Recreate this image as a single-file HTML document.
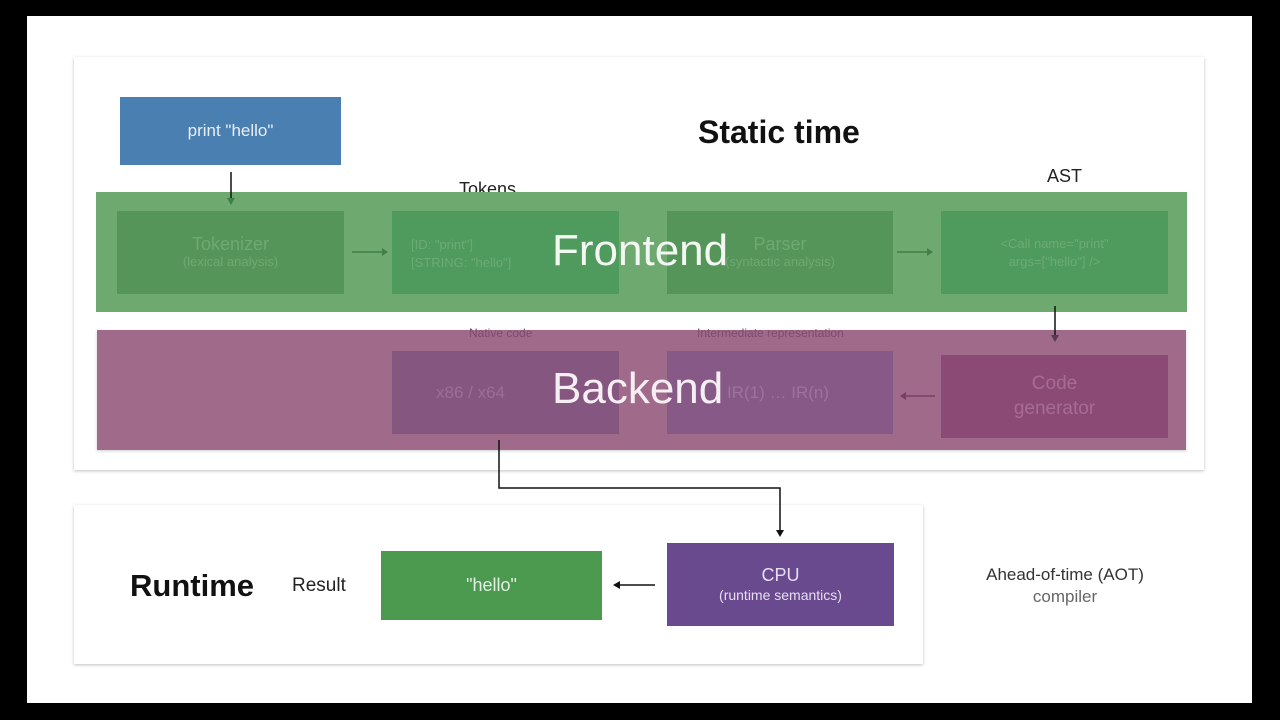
<!DOCTYPE html>
<html><head><meta charset="utf-8"><style>
*{margin:0;padding:0;box-sizing:border-box}
body{width:1280px;height:720px;background:#000;position:relative;overflow:hidden;font-family:"Liberation Sans",sans-serif}
.a{position:absolute}
.c{display:flex;align-items:center;justify-content:center;flex-direction:column;text-align:center}
.panel{background:#fff;box-shadow:0 1px 3px rgba(0,0,0,.25)}
</style></head><body>
<div class="a" style="left:27px;top:16px;width:1225px;height:687px;background:#fff"></div>
<div class="a panel" style="left:74px;top:57px;width:1130px;height:413px"></div>
<div class="a panel" style="left:74px;top:505px;width:849px;height:159px"></div>

<div class="a c" style="left:120px;top:97px;width:221px;height:68px;background:#4a7fb2;color:#e8eef6;font-size:17px">print "hello"</div>
<div class="a" style="left:698px;top:114px;font-size:32px;font-weight:bold;color:#111">Static time</div>
<div class="a" style="left:459px;top:179px;font-size:18px;color:#222">Tokens</div>
<div class="a" style="left:1047px;top:166px;font-size:18px;color:#222">AST</div>

<!-- green band -->
<div class="a" style="left:96px;top:192px;width:1091px;height:120px;background:#6eaa70"></div>
<div class="a c" style="left:117px;top:211px;width:227px;height:83px;background:#56955a;color:#6ea872;font-size:18px;line-height:1.1">Tokenizer<span style="font-size:13px">(lexical analysis)</span></div>
<div class="a" style="left:392px;top:211px;width:227px;height:83px;background:#4f9a5d;color:#6cab76;font-size:13px;padding:25px 0 0 19px;line-height:1.35">[ID: "print"]<br>[STRING: "hello"]</div>
<div class="a c" style="left:667px;top:211px;width:226px;height:83px;background:#56955a;color:#6ea872;font-size:18px;line-height:1.1">Parser<span style="font-size:13px">(syntactic analysis)</span></div>
<div class="a c" style="left:941px;top:211px;width:227px;height:83px;background:#4f9a5d;color:#6cab76;font-size:13px;line-height:1.35">&lt;Call name="print"<br>args=["hello"] /&gt;</div>
<div class="a" style="left:552px;top:226px;font-size:44px;color:#f2f7f2">Frontend</div>

<!-- pink band -->
<div class="a" style="left:97px;top:330px;width:1089px;height:120px;background:#a06a8a;box-shadow:0 1px 3px rgba(0,0,0,.2)"></div>
<div class="a" style="left:469px;top:326px;font-size:12px;color:#7f4a6c">Native code</div>
<div class="a" style="left:697px;top:326px;font-size:12px;color:#7f4a6c">Intermediate representation</div>
<div class="a c" style="left:392px;top:351px;width:227px;height:83px;background:#855680;color:#9a6f98;font-size:17px;padding-right:70px">x86 / x64</div>
<div class="a c" style="left:667px;top:351px;width:226px;height:83px;background:#865986;color:#9e73a0;font-size:17px;align-items:flex-start;padding-left:60px">IR(1) … IR(n)</div>
<div class="a c" style="left:941px;top:355px;width:227px;height:83px;background:#8b4a75;color:#a66c92;font-size:19px;line-height:1.3">Code<br>generator</div>
<div class="a" style="left:552px;top:364px;font-size:44px;color:#f5eef3">Backend</div>

<svg class="a" style="left:0;top:0" width="1280" height="720">
<g stroke="#111" stroke-width="1.5" fill="none">
<line x1="231" y1="172" x2="231" y2="198"/>
<line x1="1055" y1="306" x2="1055" y2="335"/>
<polyline points="499,440 499,488 780,488 780,530"/>
<line x1="620" y1="585" x2="655" y2="585"/>
</g>
<g stroke="#3f7f48" stroke-width="1.5"><line x1="352" y1="252" x2="382" y2="252"/><line x1="897" y1="252" x2="927" y2="252"/></g>
<g stroke="#7a3e64" stroke-width="1.5"><line x1="906" y1="396" x2="935" y2="396"/></g>
<g fill="#3f7f48"><polygon points="227,198 235,198 231,205"/><polygon points="382,248 388,252 382,256"/><polygon points="927,248 933,252 927,256"/></g>
<polygon fill="#7a3e64" points="906,392 900,396 906,400"/>
<polygon fill="#5a3a50" points="1051,335 1059,335 1055,342"/>
<polygon fill="#111" points="776,530 784,530 780,537"/>
<polygon fill="#111" points="620,581 613,585 620,589"/>
</svg>

<div class="a" style="left:130px;top:568px;font-size:31px;font-weight:bold;color:#111">Runtime</div>
<div class="a" style="left:292px;top:575px;font-size:19px;color:#222">Result</div>
<div class="a c" style="left:381px;top:551px;width:221px;height:69px;background:#4c9a4f;color:#e3f0e3;font-size:18px">"hello"</div>
<div class="a c" style="left:667px;top:543px;width:227px;height:83px;background:#6a4a8e;color:#e6def0;font-size:18px;line-height:1.2">CPU<span style="font-size:14px">(runtime semantics)</span></div>
<div class="a c" style="left:960px;top:564px;width:210px;font-size:17px;color:#333;line-height:1.3">Ahead-of-time (AOT)<span style="color:#666">compiler</span></div>
</body></html>
